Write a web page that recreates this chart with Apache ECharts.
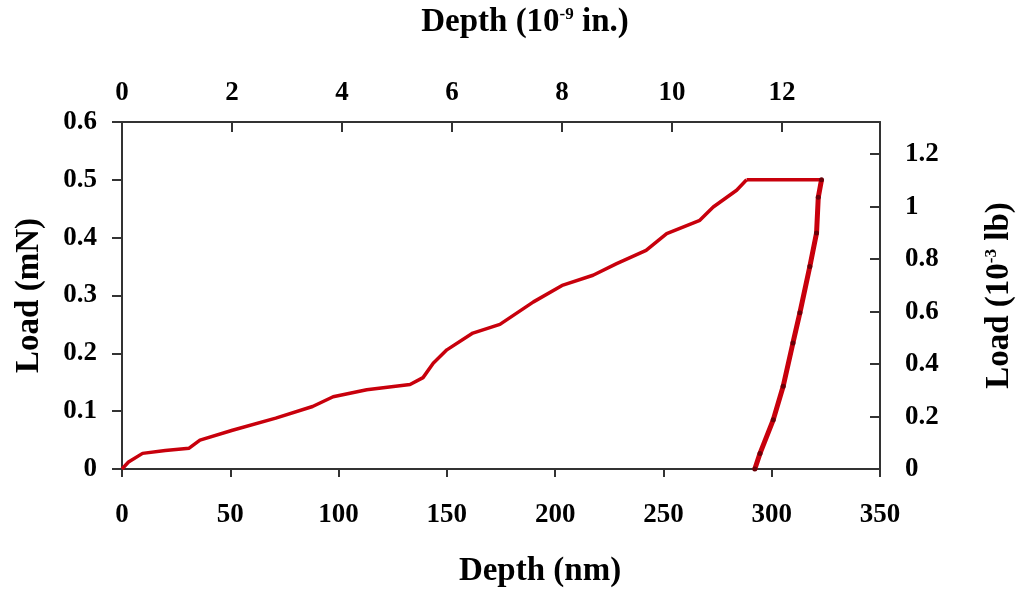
<!DOCTYPE html>
<html>
<head>
<meta charset="utf-8">
<script src="https://cdn.jsdelivr.net/npm/echarts@6/dist/echarts.min.js"></script>
<style>
  html, body { margin: 0; padding: 0; background: #fff; }
  #chart { width: 1020px; height: 590px; }
</style>
</head>
<body>
<div id="chart"></div>
<script>
// loading segment (depth in nm, load in mN)
var loadingDepth = [0, 3, 9.5, 20, 31, 36, 51, 71, 88, 97.5, 113, 133, 139, 143.7, 150, 162, 174.5, 190, 203.6, 217.5, 228.4, 242, 251.5, 266.8, 273, 283.8, 288.4];
var loadingLoad = [0, 0.012, 0.027, 0.032, 0.036, 0.05, 0.067, 0.088, 0.108, 0.125, 0.137, 0.146, 0.158, 0.183, 0.206, 0.235, 0.25, 0.289, 0.318, 0.335, 0.355, 0.378, 0.407, 0.43, 0.453, 0.482, 0.5];
// hold at peak load
var holdDepth = [288.4, 323];
var holdLoad = [0.5, 0.5];
// unloading segment
var unloadDepth = [323, 321.5, 320.7, 317.6, 313, 309.8, 305.3, 300.7, 294.6, 292.2];
var unloadLoad = [0.5, 0.47, 0.408, 0.35, 0.27, 0.218, 0.143, 0.085, 0.027, 0];

var nmTicks = [0, 350];      // bottom axis range
var mnTicks = [0, 0.6];      // left axis range

function pairs(xs, ys) {
  return xs.map(function (x, i) { return [x, ys[i]]; });
}

var font = 'Liberation Serif';
var lineColor = '#333';
var red = '#c8000c';
var labelSize = 27;
var titleSize = 33;

var supStyle = { fontFamily: font, fontWeight: 'bold', fontSize: 17, color: '#000', verticalAlign: 'top', padding: [0, 0, 14, 0] };

var chart = echarts.init(document.getElementById('chart'));
chart.setOption({
  animation: false,
  backgroundColor: '#fff',
  grid: { left: 122, right: 140, top: 122, bottom: 121, containLabel: false, outerBoundsMode: 'none' },
  xAxis: [
    {
      type: 'value', position: 'bottom',
      min: nmTicks[0], max: nmTicks[1], interval: 50,
      name: 'Depth (nm)', nameLocation: 'middle', nameGap: 86,
      nameTextStyle: { fontFamily: font, fontWeight: 'bold', fontSize: titleSize, color: '#000', padding: [0, 0, 0, 78] },
      axisLine: { show: true, onZero: false, lineStyle: { color: lineColor, width: 2 } },
      axisTick: { show: true, inside: false, length: 8, lineStyle: { color: lineColor, width: 2 } },
      axisLabel: { fontFamily: font, fontWeight: 'bold', fontSize: labelSize, color: '#000', margin: 33 },
      splitLine: { show: false }
    },
    {
      type: 'value', position: 'top',
      min: 0, max: nmTicks[1] / 25.4, interval: 2,
      name: 'Depth (10{sup|-9} in.)', nameLocation: 'middle', nameGap: 83,
      nameTextStyle: {
        fontFamily: font, fontWeight: 'bold', fontSize: titleSize, color: '#000', padding: [0, 0, 0, 48],
        rich: { sup: supStyle }
      },
      axisLine: { show: true, onZero: false, lineStyle: { color: lineColor, width: 2 } },
      axisTick: { show: true, inside: true, length: 10, lineStyle: { color: lineColor, width: 2 } },
      axisLabel: { fontFamily: font, fontWeight: 'bold', fontSize: labelSize, color: '#000', margin: 15, showMaxLabel: false },
      splitLine: { show: false }
    }
  ],
  yAxis: [
    {
      type: 'value', position: 'left',
      min: mnTicks[0], max: mnTicks[1], interval: 0.1,
      name: 'Load (mN)', nameLocation: 'middle', nameGap: 76, nameRotate: 90,
      nameTextStyle: { fontFamily: font, fontWeight: 'bold', fontSize: titleSize, color: '#000' },
      axisLine: { show: true, onZero: false, lineStyle: { color: lineColor, width: 2 } },
      axisTick: { show: true, inside: false, length: 10, lineStyle: { color: lineColor, width: 2 } },
      axisLabel: { fontFamily: font, fontWeight: 'bold', fontSize: labelSize, color: '#000', margin: 25,
        formatter: function (v) { return +v.toFixed(1) + ''; } },
      splitLine: { show: false }
    },
    {
      type: 'value', position: 'right',
      min: 0, max: mnTicks[1] * 2.2046, interval: 0.2,
      name: 'Load (10{sup|-3} lb)', nameLocation: 'middle', nameGap: 103, nameRotate: 90,
      nameTextStyle: {
        fontFamily: font, fontWeight: 'bold', fontSize: titleSize, color: '#000',
        rich: { sup: supStyle }
      },
      axisLine: { show: true, onZero: false, lineStyle: { color: lineColor, width: 2 } },
      axisTick: { show: true, inside: true, length: 10, lineStyle: { color: lineColor, width: 2 } },
      axisLabel: { fontFamily: font, fontWeight: 'bold', fontSize: labelSize, color: '#000', margin: 25, showMaxLabel: false,
        formatter: function (v) { return +v.toFixed(1) + ''; } },
      splitLine: { show: false }
    }
  ],
  series: [
    {
      type: 'line', xAxisIndex: 0, yAxisIndex: 0,
      data: pairs(loadingDepth, loadingLoad),
      showSymbol: false, lineStyle: { color: red, width: 3.5 }
    },
    {
      type: 'line', xAxisIndex: 0, yAxisIndex: 0,
      data: pairs(holdDepth, holdLoad),
      showSymbol: false, lineStyle: { color: red, width: 3.5 }
    },
    {
      type: 'line', xAxisIndex: 0, yAxisIndex: 0,
      data: pairs(unloadDepth, unloadLoad),
      symbol: 'circle', symbolSize: 5, showSymbol: true,
      itemStyle: { color: '#6a0008' },
      lineStyle: { color: red, width: 5 }
    }
  ]
});
</script>
</body>
</html>
